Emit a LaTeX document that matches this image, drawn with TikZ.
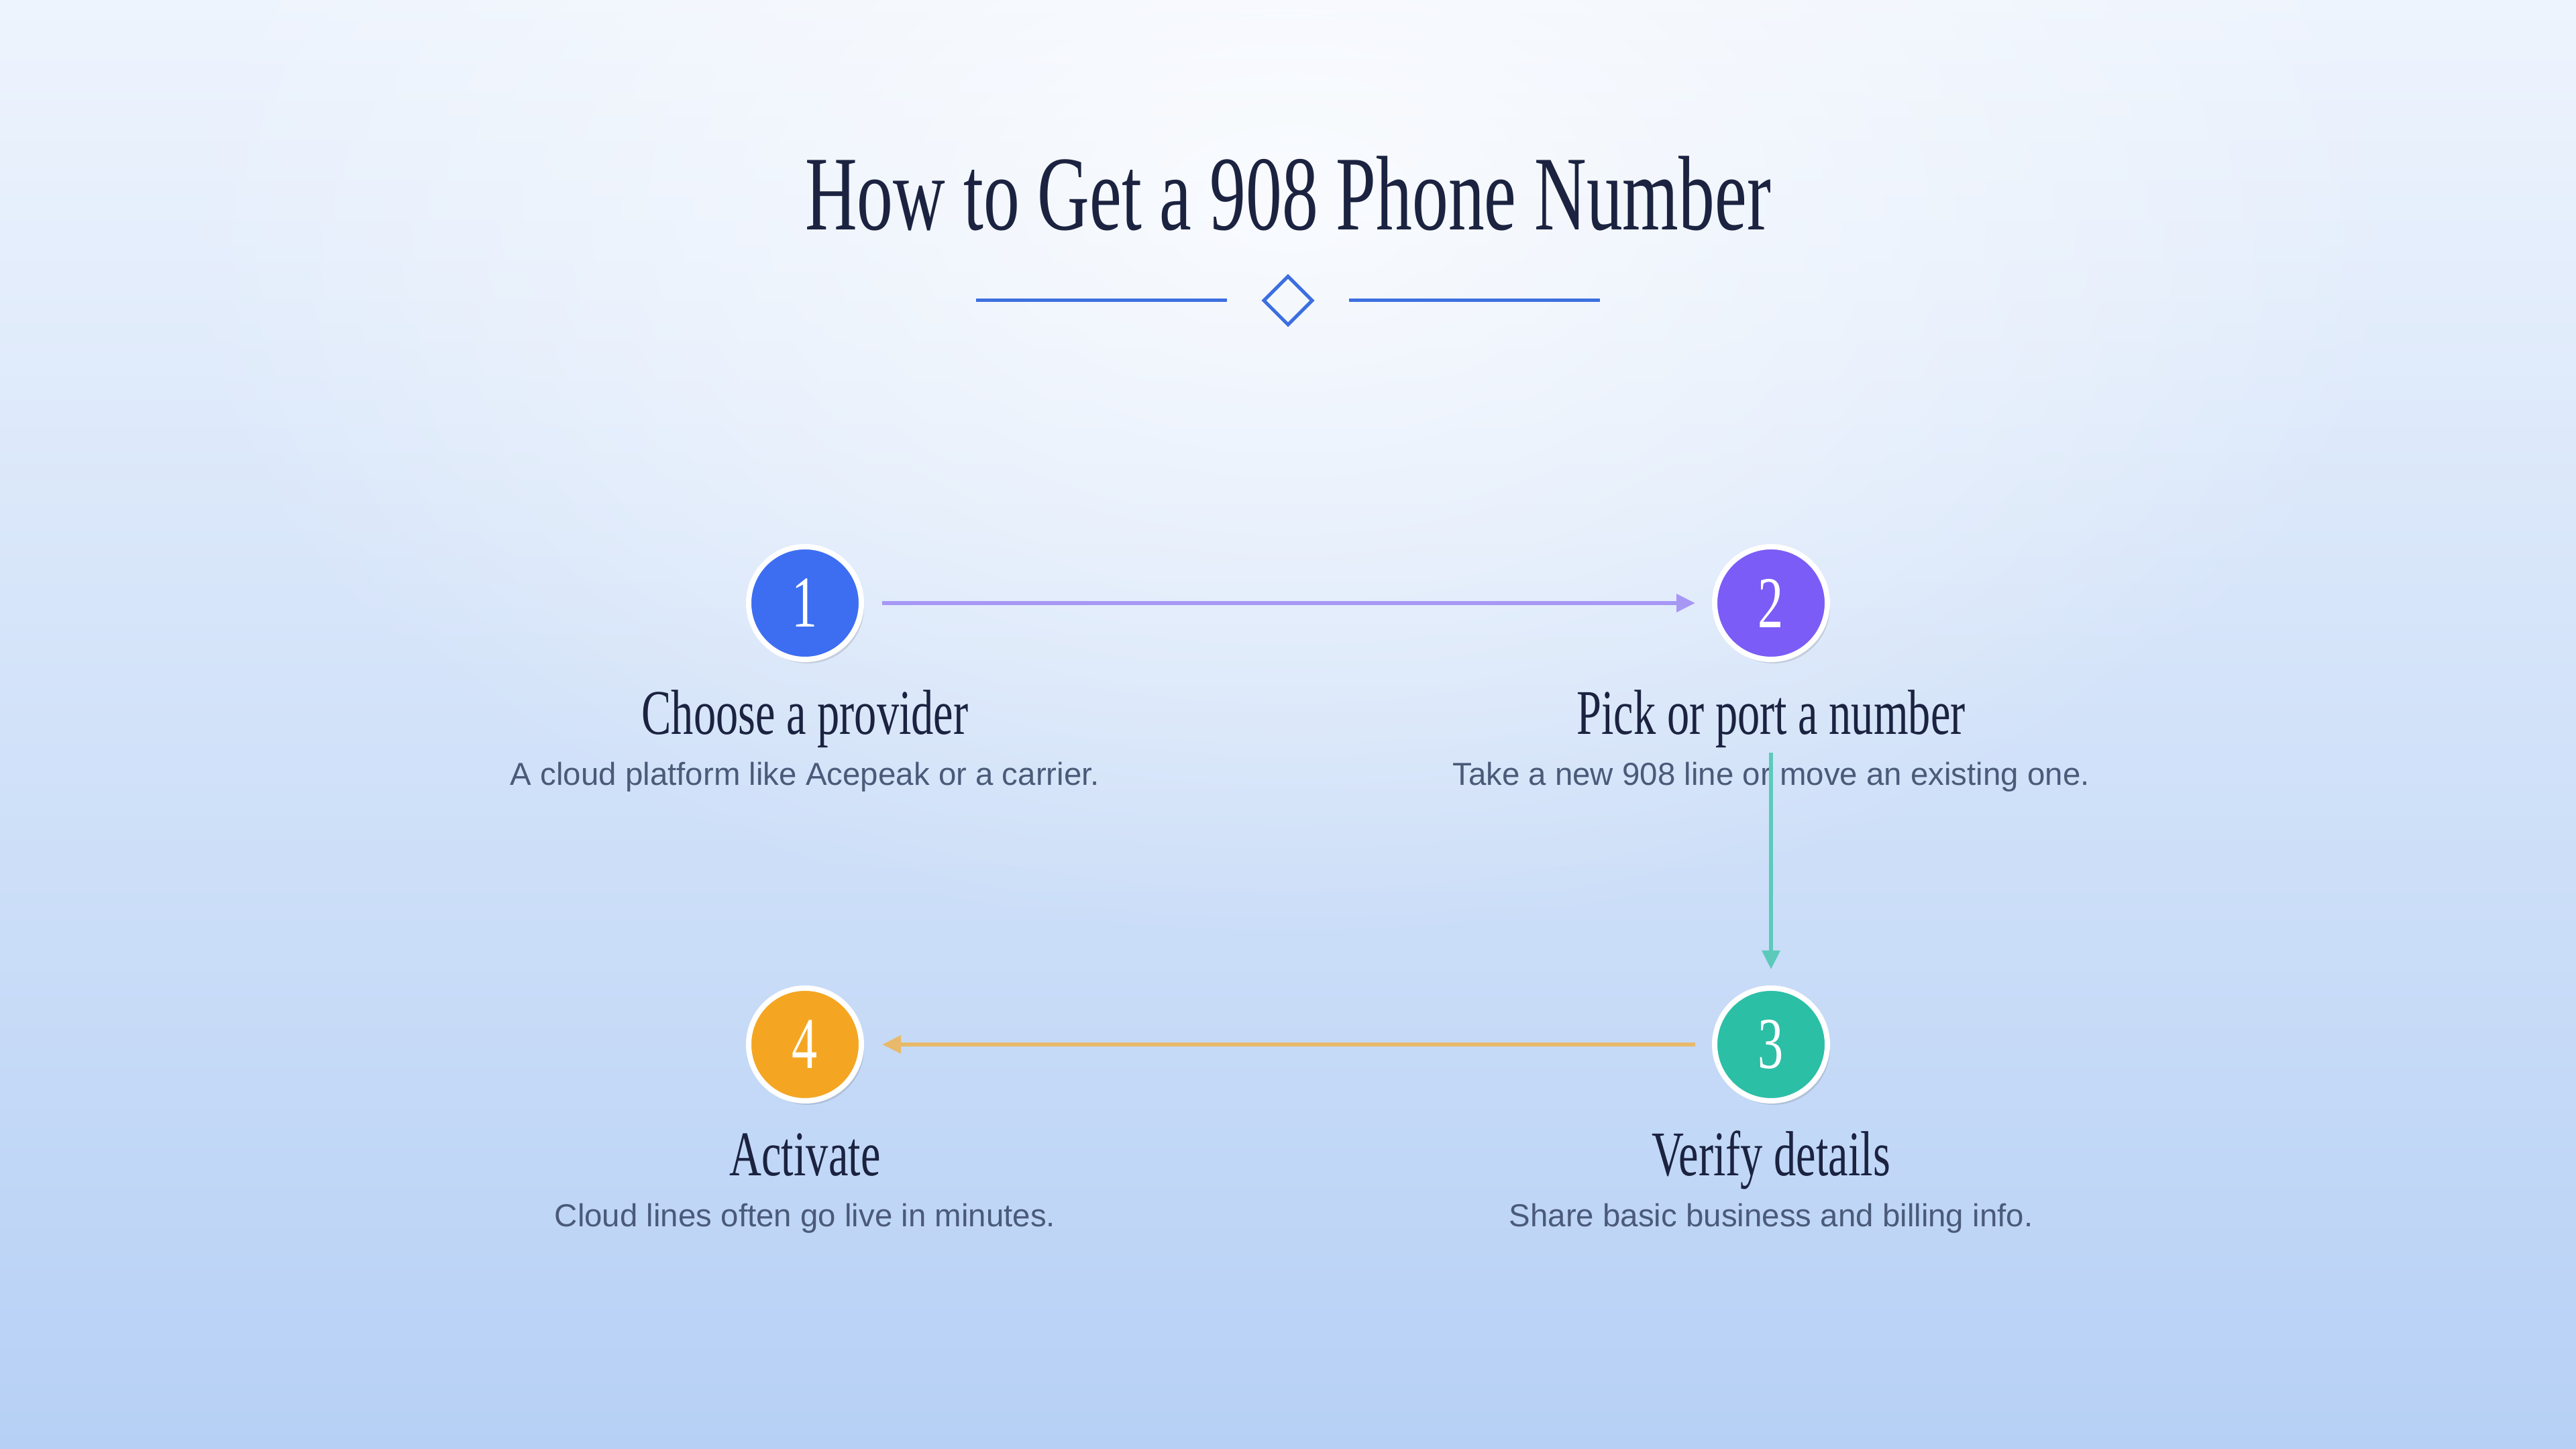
\documentclass[tikz,border=0pt]{standalone}
\usepackage{fontspec}
\usetikzlibrary{shapes.geometric,shadows,fadings,arrows.meta}
\setmainfont{Liberation Serif}
\newfontfamily\headfont[FakeStretch=0.7]{Liberation Serif}
\newfontfamily\tallfont[FakeStretch=0.68]{Liberation Serif}
\newfontfamily\bodyfont{Liberation Sans}
\definecolor{bgtop}{HTML}{EEF4FD}
\definecolor{bgbot}{HTML}{B6D0F5}
\definecolor{ink}{HTML}{1B2340}
\definecolor{muted}{HTML}{4A5A78}
\definecolor{rule}{HTML}{3D6FE0}
\definecolor{cblue}{HTML}{3D6EF2}
\definecolor{cpurple}{HTML}{7B5CF6}
\definecolor{cteal}{HTML}{2BBFA6}
\definecolor{corange}{HTML}{F4A623}
\definecolor{apurple}{HTML}{A797F5}
\definecolor{ateal}{HTML}{5CCABB}
\definecolor{aorange}{HTML}{E8B96A}
\tikzfading[name=glow, inner color=transparent!0, outer color=transparent!100]
\tikzset{
  stepdot/.style={circle, minimum size=1.68cm, inner sep=0pt, draw=white, line width=0.08cm,
    text=white, font=\headfont\fontsize{31}{31}\selectfont,
    drop shadow={shadow xshift=0.04cm, shadow yshift=-0.06cm, opacity=0.2, fill=black!60}},
  steptitle/.style={anchor=base, text=ink, font=\headfont\fontsize{27}{27}\selectfont},
  stepnote/.style={anchor=base, text=muted, font=\bodyfont\fontsize{13.5}{13.5}\selectfont},
  flow/.style={line width=0.06cm, -{Triangle[length=0.28cm, width=0.26cm]}}
}
\begin{document}
\begin{tikzpicture}
			\useasboundingbox (0,0) rectangle (38.4,21.6);
			% background
			\shade[top color=bgtop, bottom color=bgbot] (0,0) rectangle (38.4,21.6);
			\begin{scope}
			\clip (0,0) rectangle (38.4,21.6);
			\fill[white, opacity=0.75, path fading=glow] (19.2,18.5) ellipse (17 and 11);
			\end{scope}
			% title
			\node[anchor=base, text=ink, font=\tallfont\fontsize{45}{45}\selectfont] (title) at (19.2,18.17) {How to Get a 908 Phone Number};
			\node[diamond, draw=rule, line width=0.05cm, minimum size=0.74cm, inner sep=0pt] (gem) at (19.2,17.12) {};
			\coordinate (la) at (14.55,17.12);
			\coordinate (lb) at (18.29,17.12);
			\coordinate (ra) at (20.11,17.12);
			\coordinate (rb) at (23.85,17.12);
			\draw[rule, line width=0.05cm] (la) -- (lb);
			\draw[rule, line width=0.05cm] (ra) -- (rb);
			% steps
			\node[stepdot, fill=cblue] (s1) at (12,12.61) {1};
			\node[stepdot, fill=cpurple] (s2) at (26.4,12.61) {2};
			\node[stepdot, fill=cteal] (s3) at (26.4,6.03) {3};
			\node[stepdot, fill=corange] (s4) at (12,6.03) {4};
			\node[steptitle] (t1) at (12,10.65) {Choose a provider};
			\node[stepnote] (d1) at (12,9.89) {A cloud platform like Acepeak or a carrier.};
			\node[steptitle] (t2) at (26.4,10.65) {Pick or port a number};
			\node[stepnote] (d2) at (26.4,9.89) {Take a new 908 line or move an existing one.};
			\node[steptitle] (t3) at (26.4,4.07) {Verify details};
			\node[stepnote] (d3) at (26.4,3.31) {Share basic business and billing info.};
			\node[steptitle] (t4) at (12,4.07) {Activate};
			\node[stepnote] (d4) at (12,3.31) {Cloud lines often go live in minutes.};
			% connectors
			\draw[flow, apurple, shorten <=0.27cm, shorten >=0.25cm] (s1) -- (s2);
			\draw[flow, ateal, shorten <=1.35cm, shorten >=0.24cm] (s2) -- (s3);
			\draw[flow, aorange, shorten <=0.25cm, shorten >=0.27cm] (s3) -- (s4);
		\end{tikzpicture}
\end{document}
